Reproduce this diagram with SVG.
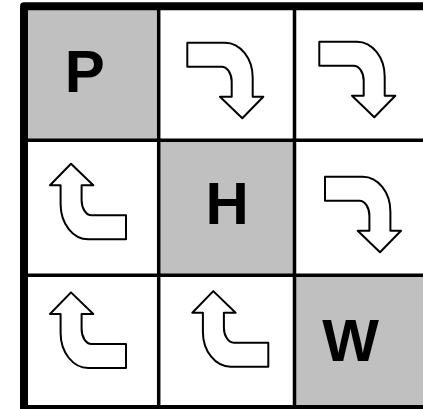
<svg xmlns="http://www.w3.org/2000/svg" xmlns:xlink="http://www.w3.org/1999/xlink" width="423" height="409" viewBox="0 0 423 409">
<style>
.grey{fill:#c0c0c0}
.white{fill:#ffffff}
.lbl{font-family:"Liberation Sans",Arial,sans-serif;font-weight:bold;font-size:60px;fill:#000}
.arrow{fill:#ffffff;stroke:#000;stroke-width:2;stroke-linejoin:round}
.grid{stroke:#000;stroke-width:3.5;fill:none}
.border{stroke:#000;stroke-width:8;fill:none;stroke-linejoin:round}
</style>
<defs>
<path id="arrowDR" class="arrow" d="M0,0 H37.7 A27.7,35 0 0 1 65.4,35 V54 H76 L55,75.6 L32.7,54 H44.4 V39 A10,15 0 0 0 34.4,24 H0 Z"/>
</defs>
<rect x="0" y="0" width="423" height="409" fill="#ffffff"/>
<g id="cell-P">
<rect class="grey" x="24" y="6" width="134.7" height="134.3"/>
<text class="lbl" x="64.7" y="92.3">P</text>
</g>
<g id="cell-r1c2">
<use xlink:href="#arrowDR" transform="translate(187.3,42.7)"/>
</g>
<g id="cell-r1c3">
<use xlink:href="#arrowDR" transform="translate(319.3,41.7)"/>
</g>
<g id="cell-r2c1">
<use xlink:href="#arrowDR" transform="translate(126,239.3) rotate(180)"/>
</g>
<g id="cell-H">
<rect class="grey" x="158.7" y="140.3" width="135.8" height="135"/>
<text class="lbl" x="205.6" y="224.3">H</text>
</g>
<g id="cell-r2c3">
<use xlink:href="#arrowDR" transform="translate(325,176.7)"/>
</g>
<g id="cell-r3c1">
<use xlink:href="#arrowDR" transform="translate(126,368) rotate(180)"/>
</g>
<g id="cell-r3c2">
<use xlink:href="#arrowDR" transform="translate(268.3,366.7) rotate(180)"/>
</g>
<g id="cell-W">
<rect class="grey" x="294.5" y="275.3" width="134.5" height="134"/>
<text class="lbl" x="322.3" y="361">W</text>
</g>
<g id="connectors">
<line class="grid" x1="158.7" y1="6" x2="158.7" y2="409"/>
<line class="grid" x1="294.5" y1="6" x2="294.5" y2="409"/>
<line class="grid" x1="24" y1="140.3" x2="429" y2="140.3"/>
<line class="grid" x1="24" y1="275.3" x2="429" y2="275.3"/>
<rect class="border" x="24" y="6.2" width="405" height="402.8"/>
</g>
</svg>
